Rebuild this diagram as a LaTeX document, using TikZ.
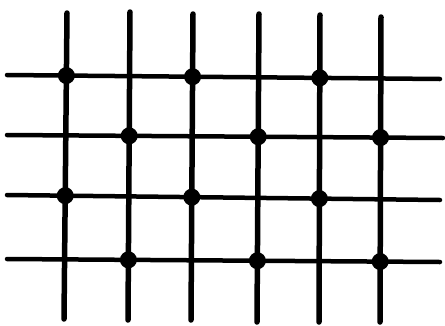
\documentclass[tikz,border=0pt]{standalone}
\begin{document}
\begin{tikzpicture}[x=1pt,y=-1pt,
  wire/.style={line width=5pt,line cap=round},
  joint/.style={circle,fill,inner sep=0pt,minimum size=17pt}]
  \useasboundingbox (0,0) rectangle (445,325);
  % vertical wires
  \foreach \i/\xt/\yt/\xb/\yb in {1/67/13/64/319,2/130/12/128/320,3/193/14/191/320,
                                  4/259/14/257/322,5/320/15/319/322,6/381/17/380/322}{
    \coordinate (vt\i) at (\xt,\yt);
    \coordinate (vb\i) at (\xb,\yb);
    \draw[wire,line width=5.5pt] (vt\i) -- (vb\i);
  }
  % horizontal wires
  \foreach \j/\yl/\xr/\yr in {1/75/440/79,2/135/443/138,3/195/440/200,4/259/440/262}{
    \coordinate (hl\j) at (7,\yl);
    \coordinate (hr\j) at (\xr,\yr);
    \draw[wire,line width=4.5pt] (hl\j) -- (hr\j);
  }
  % joints
  \foreach \j/\i in {1/1,1/3,1/5,2/2,2/4,2/6,3/1,3/3,3/5,4/2,4/4,4/6}
    \node[joint] (d\j\i) at (intersection of {vt\i}--{vb\i} and {hl\j}--{hr\j}) {};
\end{tikzpicture}
\end{document}
